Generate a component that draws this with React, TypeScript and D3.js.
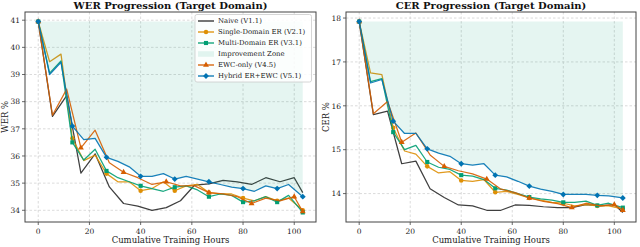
import * as d3 from 'd3';

// hours grid for naive / EWC runs and for the replay-based runs
const hoursA = [0, 5.56, 11.11, 16.67, 22.22, 27.78, 33.33, 38.89, 44.44, 50, 55.56, 61.11, 66.67, 72.22, 77.78, 83.33, 88.89, 94.44, 100, 103.33];
const hoursB = [0, 4.44, 8.89, 13.33, 17.78, 22.22, 26.67, 31.11, 35.56, 40, 44.44, 48.89, 53.33, 57.78, 62.22, 66.67, 71.11, 75.56, 80, 84.44, 88.89, 93.33, 97.78, 103.33];

const werNaive = [40.95, 37.46, 38.22, 35.37, 36.08, 34.86, 34.25, 34.15, 34.0, 34.1, 34.35, 34.93, 34.97, 35.1, 35.05, 34.95, 35.2, 35.05, 35.2, 34.65];
const werEwc = [40.95, 37.5, 38.46, 36.3, 36.95, 35.75, 35.4, 35.2, 34.95, 35.05, 34.9, 34.9, 34.65, 34.6, 34.5, 34.25, 34.45, 34.35, 34.5, 33.95];
const werSingle = [40.95, 39.47, 39.75, 36.65, 35.83, 36.03, 35.35, 35.05, 35.05, 34.72, 34.8, 35.05, 34.72, 34.9, 34.95, 34.65, 34.6, 34.6, 34.45, 34.35, 34.5, 34.35, 34.45, 34.0];
const werMulti = [40.95, 39.05, 39.5, 36.5, 35.85, 36.25, 35.45, 35.2, 35.05, 34.9, 34.8, 34.7, 34.85, 34.9, 34.75, 34.5, 34.6, 34.55, 34.3, 34.35, 34.5, 34.3, 34.55, 33.92];
const werHybrid = [40.95, 39.0, 39.45, 37.1, 36.6, 36.65, 35.95, 35.8, 35.6, 35.25, 35.25, 35.35, 35.15, 35.25, 35.15, 35.05, 34.95, 34.85, 34.8, 34.7, 34.9, 34.8, 34.95, 34.5];

const cerNaive = [17.92, 15.8, 15.88, 14.68, 14.74, 14.11, 13.91, 13.74, 13.72, 13.62, 13.62, 13.74, 13.73, 13.7, 13.68, 13.68, 13.75, 13.72, 13.75, 13.57];
const cerEwc = [17.92, 15.82, 16.1, 15.17, 15.38, 14.88, 14.62, 14.52, 14.45, 14.33, 14.1, 14.02, 13.9, 13.82, 13.77, 13.68, 13.78, 13.72, 13.75, 13.62];
const cerSingle = [17.92, 16.75, 16.71, 15.5, 14.97, 14.9, 14.62, 14.47, 14.5, 14.3, 14.28, 14.32, 14.03, 14.05, 13.98, 13.9, 13.85, 13.8, 13.78, 13.72, 13.75, 13.72, 13.72, 13.65];
const cerMulti = [17.92, 16.55, 16.62, 15.4, 15.0, 15.1, 14.72, 14.6, 14.55, 14.42, 14.4, 14.32, 14.12, 14.08, 14.0, 13.92, 13.88, 13.85, 13.8, 13.8, 13.83, 13.73, 13.78, 13.68];
const cerHybrid = [17.92, 16.52, 16.6, 15.65, 15.37, 15.37, 15.02, 14.92, 14.85, 14.68, 14.65, 14.68, 14.42, 14.38, 14.28, 14.17, 14.1, 14.05, 13.98, 13.98, 13.98, 13.96, 13.95, 13.9];

const seriesNames = ['Naive (V1.1)', 'Single-Domain ER (V2.1)', 'Multi-Domain ER (V3.1)', 'EWC-only (V4.5)', 'Hybrid ER+EWC (V5.1)'];
const seriesColors = ['#2a2a2a', '#DE8F05', '#029E73', '#D55E00', '#0173B2'];
const seriesMarkers = ['none', 'circle', 'square', 'triangle', 'diamond'];
const xTicks = [0, 20, 40, 60, 80, 100];
const werTicks = [34, 35, 36, 37, 38, 39, 40, 41];
const cerTicks = [14, 15, 16, 17, 18];

const W = 640;
const H = 247;
const FONT = 'DejaVu Serif';
const ZONE = '#029E73';

type Series = { name: string; color: string; marker: string; hours: number[]; values: number[] };

function markerPath(kind: string) {
  if (kind === 'circle') return d3.symbol(d3.symbolCircle, 16)()!;
  if (kind === 'square') return d3.symbol(d3.symbolSquare, 17)()!;
  if (kind === 'triangle') return d3.symbol(d3.symbolTriangle, 15)()!;
  if (kind === 'diamond') return d3.symbol(d3.symbolSquare, 17)()!;
  return '';
}

function Marker({ kind, x, y, color }: { kind: string; x: number; y: number; color: string }) {
  if (kind === 'none') return null;
  const rot = kind === 'diamond' ? ' rotate(45)' : '';
  return <path d={markerPath(kind)} transform={`translate(${x},${y})${rot}`} fill={color} />;
}

function Legend({ x0, y0, series }: { x0: number; y0: number; series: Series[] }) {
  const rows = [series[0], series[1], series[2], null, series[3], series[4]];
  const rowH = 11;
  return (
    <g>
      <rect x={x0} y={y0} width={116.5} height={67.5} rx={2} fill="#ffffff" fillOpacity={0.85} stroke="#cccccc" strokeWidth={0.8} />
      {rows.map((s, i) => {
        const yy = y0 + 6.5 + i * rowH;
        return (
          <g key={i}>
            {s === null ? (
              <rect x={x0 + 3} y={yy - 2.8} width={16} height={5.6} fill={ZONE} fillOpacity={0.1} />
            ) : (
              <g>
                <line x1={x0 + 3} x2={x0 + 19} y1={yy} y2={yy} stroke={s.color} strokeWidth={1.3} />
                <Marker kind={s.marker} x={x0 + 11} y={yy} color={s.color} />
              </g>
            )}
            <text x={x0 + 23} y={yy + 2.4} fontFamily={FONT} fontSize={6.9} fill="#222">{s ? s.name : 'Improvement Zone'}</text>
          </g>
        );
      })}
    </g>
  );
}

function Panel({ left, right, title, yLabel, yTicks, series, legend }: {
  left: number; right: number; title: string; yLabel: string; yTicks: number[]; series: Series[]; legend: boolean;
}) {
  const top = 12;
  const bottom = 222;
  const all = series.flatMap(s => s.values);
  const lo = d3.min(all)!;
  const hi = d3.max(all)!;
  const pad = (hi - lo) * 0.05;
  const x = d3.scaleLinear().domain([-5.17, 108.5]).range([left, right]);
  const y = d3.scaleLinear().domain([lo - pad, hi + pad]).range([bottom, top]);

  const hybrid = series[4];
  const zone = d3.area<number>()
    .x((_, i) => x(hybrid.hours[i]))
    .y0(y(hybrid.values[0]))
    .y1(d => y(d));

  const cx = (left + right) / 2;
  const cy = (top + bottom) / 2;

  return (
    <g>
      {/* grid */}
      {xTicks.map(t => (
        <line key={`gx${t}`} x1={x(t)} x2={x(t)} y1={top} y2={bottom} stroke="#cccccc" strokeWidth={0.7} strokeDasharray="2.5,2" />
      ))}
      {yTicks.map(t => (
        <line key={`gy${t}`} x1={left} x2={right} y1={y(t)} y2={y(t)} stroke="#cccccc" strokeWidth={0.7} strokeDasharray="2.5,2" />
      ))}

      {series.map((s, k) => {
        const path = d3.line<number>().x((_, i) => x(s.hours[i])).y(d => y(d))(s.values)!;
        return (
          <g key={s.name}>
            {k === 3 && <path d={zone(hybrid.values)!} fill={ZONE} fillOpacity={0.1} />}
            <path d={path} fill="none" stroke={s.color} strokeWidth={1.25} strokeOpacity={0.9} strokeLinejoin="round" />
            {s.values.map((v, i) => (i % 3 === 0 || i === s.values.length - 1) ? (
              <Marker key={i} kind={s.marker} x={x(s.hours[i])} y={y(v)} color={s.color} />
            ) : null)}
          </g>
        );
      })}

      {/* frame */}
      <rect x={left} y={top} width={right - left} height={bottom - top} fill="none" stroke="#444444" strokeWidth={1} />

      {/* ticks */}
      {xTicks.map(t => (
        <g key={`tx${t}`}>
          <line x1={x(t)} x2={x(t)} y1={bottom} y2={bottom + 3} stroke="#444444" strokeWidth={0.8} />
          <text x={x(t)} y={bottom + 11.5} textAnchor="middle" fontFamily={FONT} fontSize={7.5} fill="#222">{t}</text>
        </g>
      ))}
      {yTicks.map(t => (
        <g key={`ty${t}`}>
          <line x1={left - 3} x2={left} y1={y(t)} y2={y(t)} stroke="#444444" strokeWidth={0.8} />
          <text x={left - 5} y={y(t) + 2.7} textAnchor="end" fontFamily={FONT} fontSize={7.5} fill="#222">{t}</text>
        </g>
      ))}

      <text x={cx} y={9} textAnchor="middle" fontFamily={FONT} fontSize={10} fontWeight="bold" fill="#111">{title}</text>
      <text x={cx} y={243} textAnchor="middle" fontFamily={FONT} fontSize={8.5} fill="#222">Cumulative Training Hours</text>
      <text transform={`translate(${left - 17},${cy}) rotate(-90)`} textAnchor="middle" fontFamily={FONT} fontSize={8.5} fill="#222">{yLabel}</text>

      {legend && <Legend x0={195} y0={14.5} series={series} />}
    </g>
  );
}

function build(values: number[][]): Series[] {
  return values.map((v, k) => ({
    name: seriesNames[k],
    color: seriesColors[k],
    marker: seriesMarkers[k],
    hours: k === 0 || k === 3 ? hoursA : hoursB,
    values: v,
  }));
}

export default function App() {
  const wer = build([werNaive, werSingle, werMulti, werEwc, werHybrid]);
  const cer = build([cerNaive, cerSingle, cerMulti, cerEwc, cerHybrid]);
  return (
    <svg width={W} height={H} style={{ position: 'absolute', left: 0, top: 0, background: '#fff' }}>
      <Panel left={25} right={316} title="WER Progression (Target Domain)" yLabel="WER %" yTicks={werTicks} series={wer} legend={true} />
      <Panel left={346} right={636} title="CER Progression (Target Domain)" yLabel="CER %" yTicks={cerTicks} series={cer} legend={false} />
    </svg>
  );
}
